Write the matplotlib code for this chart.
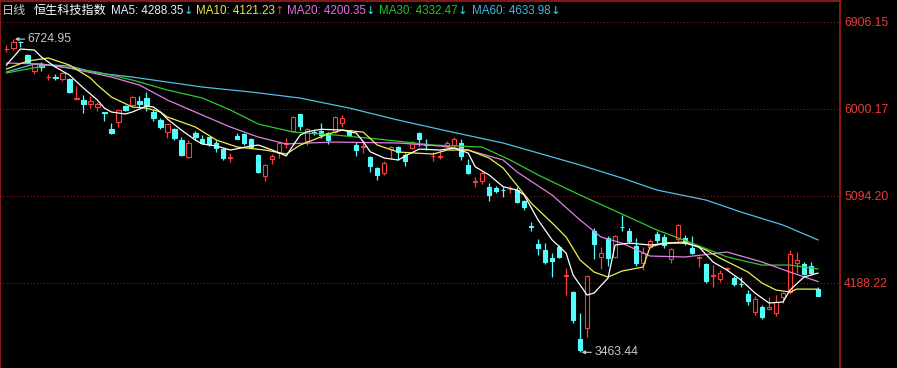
import matplotlib
matplotlib.use("Agg")
import matplotlib.pyplot as plt
import numpy as np

# daily candles
opens = [6625, 6630, 6700, 6559, 6393, 6463, 6330, 6330, 6310, 6310,
         6102, 6091, 6046, 6021, 5965, 5789, 5865, 6028, 6039, 6080,
         6115, 5963, 5883, 5761, 5786, 5675, 5494, 5750, 5688, 5702,
         5646, 5578, 5490, 5719, 5737, 5682, 5518, 5300, 5480, 5536,
         5630, 5771, 5940, 5667, 5760, 5770, 5745, 5761, 5855, 5775,
         5620, 5600, 5494, 5380, 5334, 5577, 5605, 5518, 5588, 5744,
         5630, 5505, 5495, 5610, 5625, 5640, 5415, 5240, 5250, 5185,
         5175, 5155, 5160, 5155, 5040, 4775, 4590, 4530, 4443, 4563,
         4255, 4095, 3600, 3715, 4730, 4460, 4650, 4460, 4770, 4730,
         4570, 4397, 4565, 4700, 4668, 4432, 4640, 4652, 4547, 4450,
         4384, 4262, 4225, 4335, 4240, 4178, 4072, 3880, 3940, 3912,
         3877, 4043, 4087, 4390, 4384, 4366, 4120]
highs = [6660, 6724.95, 6705, 6565, 6470, 6484, 6365, 6365, 6385, 6320,
         6240, 6143, 6130, 6070, 5968, 5848, 5987, 6040, 6130, 6132,
         6170, 5987, 5907, 5845, 5800, 5710, 5675, 5771, 5727, 5706,
         5675, 5590, 5542, 5744, 5750, 5700, 5528, 5425, 5530, 5657,
         5692, 5925, 5945, 5796, 5790, 5848, 5760, 5925, 5935, 5780,
         5657, 5660, 5508, 5397, 5459, 5612, 5615, 5535, 5665, 5760,
         5680, 5550, 5570, 5660, 5705, 5680, 5475, 5290, 5350, 5230,
         5200, 5190, 5195, 5180, 5050, 4825, 4640, 4600, 4495, 4580,
         4340, 4100, 3870, 4270, 4755, 4565, 4670, 4690, 4895, 4755,
         4650, 4565, 4640, 4730, 4700, 4547, 4800, 4685, 4675, 4467,
         4390, 4373, 4320, 4355, 4255, 4245, 4110, 4050, 3957, 4043,
         4060, 4095, 4530, 4510, 4400, 4408, 4140]
lows = [6590, 6610, 6640, 6485, 6362, 6393, 6300, 6300, 6290, 6160,
        6095, 5952, 6005, 5980, 5875, 5733, 5813, 5980, 6030, 6022,
        5976, 5877, 5787, 5698, 5678, 5508, 5484, 5675, 5633, 5612,
        5553, 5470, 5449, 5680, 5623, 5592, 5328, 5251, 5420, 5484,
        5588, 5766, 5780, 5622, 5725, 5692, 5633, 5744, 5813, 5720,
        5508, 5540, 5345, 5258, 5310, 5484, 5465, 5405, 5585, 5612,
        5570, 5460, 5480, 5600, 5610, 5470, 5320, 5180, 5220, 5040,
        5120, 5085, 5120, 5020, 4950, 4730, 4478, 4385, 4250, 4445,
        4060, 3770, 3463.44, 3627, 4432, 4330, 4365, 4445, 4730, 4600,
        4362, 4320, 4550, 4600, 4548, 4397, 4620, 4582, 4488, 4355,
        4190, 4140, 4200, 4305, 4150, 4140, 3955, 3855, 3810, 3905,
        3845, 3980, 4072, 4290, 4270, 4280, 4045]
closes = [6618, 6700, 6695, 6490, 6463, 6435, 6335, 6325, 6370, 6170,
          6110, 6046, 6080, 6046, 5960, 5744, 5987, 5987, 6125, 6046,
          6039, 5907, 5813, 5838, 5692, 5518, 5640, 5709, 5646, 5633,
          5588, 5484, 5500, 5685, 5646, 5605, 5345, 5414, 5510, 5646,
          5640, 5917, 5820, 5786, 5752, 5726, 5675, 5917, 5900, 5730,
          5570, 5610, 5403, 5310, 5438, 5605, 5552, 5460, 5657, 5680,
          5625, 5510, 5510, 5640, 5690, 5510, 5335, 5250, 5330, 5100,
          5140, 5150, 5165, 5030, 4980, 4770, 4547, 4407, 4418, 4460,
          4270, 3800, 3490, 4260, 4590, 4495, 4443, 4670, 4765, 4625,
          4397, 4495, 4625, 4630, 4582, 4536, 4790, 4600, 4495, 4455,
          4210, 4270, 4293, 4340, 4172, 4175, 4002, 4020, 3835, 3940,
          3990, 4078, 4488, 4425, 4280, 4287, 4050]
up = [1, 1, 0, 0, 1, 0, 1, 0, 1, 0,
      1, 0, 1, 1, 0, 0, 1, 0, 1, 0,
      0, 0, 0, 1, 0, 0, 1, 0, 0, 0,
      0, 0, 1, 0, 0, 0, 0, 1, 1, 1,
      1, 1, 0, 1, 0, 0, 0, 1, 1, 0,
      0, 1, 0, 0, 1, 1, 0, 0, 1, 0,
      0, 1, 1, 1, 1, 0, 0, 1, 1, 0,
      0, 0, 1, 0, 0, 0, 0, 0, 0, 0,
      1, 0, 0, 1, 0, 1, 0, 1, 0, 0,
      0, 1, 1, 0, 0, 1, 1, 0, 0, 1,
      0, 1, 1, 1, 0, 0, 0, 1, 0, 1,
      1, 1, 1, 1, 0, 0, 0]

# moving averages (day index, value)
ma5_idx = [0, 1, 2, 4, 5, 7, 9, 11, 13, 14, 15, 17, 18, 20, 21, 22, 23, 25, 27, 28,
           30, 32, 35, 36, 38, 40, 41, 42, 43, 45, 48, 50, 51, 52, 54, 56, 57, 59, 62, 64,
           66, 67, 69, 71, 73, 74, 76, 78, 80, 81, 83, 84, 86, 87, 89, 92, 95, 97, 99, 101,
           103, 105, 107, 109, 111, 112, 114, 116]
ma5_val = [6455, 6539, 6622, 6611, 6539, 6434, 6351, 6216, 6091, 6007, 5966, 5945, 5966, 6028, 6018, 5966, 5893, 5778, 5674, 5633,
           5612, 5570, 5612, 5622, 5570, 5508, 5622, 5726, 5761, 5786, 5778, 5747, 5657, 5552, 5487, 5466, 5508, 5580, 5570, 5591,
           5539, 5396, 5310, 5188, 5153, 5101, 4841, 4633, 4497, 4268, 4060, 4081, 4237, 4581, 4601, 4581, 4601, 4601, 4560, 4404,
           4320, 4216, 4081, 3977, 3987, 4112, 4247, 4288.35]
ma10_idx = [0, 3, 6, 9, 12, 13, 15, 18, 20, 22, 23, 27, 30, 33, 37, 40, 42, 46, 48, 51,
            53, 56, 61, 63, 66, 69, 71, 75, 78, 80, 82, 84, 86, 88, 91, 92, 94, 97, 100, 102,
            104, 106, 108, 110, 112, 113, 116]
ma10_val = [6413, 6497, 6528, 6455, 6320, 6247, 6122, 6018, 6007, 5966, 5914, 5810, 5674, 5601, 5570, 5528, 5622, 5737, 5778, 5757,
            5622, 5549, 5528, 5570, 5570, 5487, 5383, 5018, 4810, 4664, 4424, 4299, 4247, 4310, 4351, 4560, 4601, 4612, 4529, 4445,
            4372, 4299, 4185, 4112, 4091, 4122, 4121.23]
ma20_idx = [0, 5, 9, 15, 19, 23, 28, 32, 36, 40, 43, 47, 56, 62, 66, 71, 73, 78, 82, 85,
            88, 92, 97, 103, 108, 112, 116]
ma20_val = [6476, 6466, 6424, 6330, 6247, 6091, 5934, 5810, 5705, 5633, 5643, 5653, 5643, 5612, 5570, 5466, 5341, 5101, 4841, 4664,
            4601, 4466, 4456, 4508, 4404, 4299, 4200.35]
ma30_idx = [0, 6, 13, 18, 23, 28, 32, 36, 41, 47, 53, 61, 68, 72, 76, 82, 88, 93, 98, 103,
            108, 112, 116]
ma30_val = [6372, 6455, 6382, 6299, 6195, 6112, 5987, 5841, 5757, 5726, 5685, 5622, 5601, 5466, 5310, 5101, 4903, 4737, 4601, 4456,
            4372, 4372, 4332.47]
ma60_idx = [0, 4, 9, 13, 18, 23, 28, 35, 42, 49, 56, 63, 71, 76, 82, 88, 93, 100, 105, 111, 116]
ma60_val = [6382, 6466, 6445, 6372, 6330, 6278, 6226, 6174, 6111, 6007, 5882, 5768, 5643, 5539, 5414, 5278, 5153, 5049, 4924, 4789,
            4633.98]

yticks = [6906.15, 6000.17, 5094.20, 4188.22]

RED = '#ff3c3c'
CYAN = '#54fcfc'
FRAME = '#a01c1c'
GRID = '#8c1a1a'

fig = plt.figure(figsize=(8.97, 3.68), dpi=100, facecolor='black')
ax = fig.add_axes([0.0005, 0, 839.5 / 897, 367 / 368], facecolor='black')

n = len(opens)
x = np.arange(n)
o = np.array(opens, float)
h = np.array(highs, float)
l = np.array(lows, float)
c = np.array(closes, float)
isup = np.array(up, bool)

body_lo = np.minimum(o, c)
body_hi = np.maximum(o, c)
w = 0.62

# down candles: filled cyan
ax.vlines(x[~isup], l[~isup], h[~isup], color=CYAN, lw=0.9, zorder=2)
ax.bar(x[~isup], body_hi[~isup] - body_lo[~isup], w, bottom=body_lo[~isup],
       facecolor=CYAN, edgecolor=CYAN, lw=0.8, zorder=2)
# up candles: hollow red
ax.vlines(x[isup], body_hi[isup], h[isup], color=RED, lw=0.9, zorder=2)
ax.vlines(x[isup], l[isup], body_lo[isup], color=RED, lw=0.9, zorder=2)
ax.bar(x[isup], body_hi[isup] - body_lo[isup], w, bottom=body_lo[isup],
       facecolor='black', edgecolor=RED, lw=0.8, zorder=2)

ax.plot(ma60_idx, ma60_val, color='#50c0e8', lw=0.9, zorder=3)
ax.plot(ma30_idx, ma30_val, color='#30c830', lw=0.9, zorder=3)
ax.plot(ma20_idx, ma20_val, color='#e080e0', lw=0.9, zorder=3)
ax.plot(ma10_idx, ma10_val, color='#f0f050', lw=0.9, zorder=3)
ax.plot(ma5_idx, ma5_val, color='white', lw=0.9, zorder=4)

for t in yticks:
    ax.axhline(t, color=GRID, lw=0.8, ls=(0, (1, 2)), zorder=1)

ax.set_xlim(-6 / 7, 834 / 7)
ax.set_ylim(3300, 7122)
ax.yaxis.tick_right()
ax.set_yticks(yticks)
ax.set_yticklabels(['%.2f' % t for t in yticks], color='#e83c3c',
                   fontsize=8.8, family='Liberation Sans')
ax.tick_params(axis='y', length=0, pad=3)
ax.set_xticks([])
for side in ['left', 'top', 'right']:
    ax.spines[side].set_color(FRAME)
    ax.spines[side].set_linewidth(1.2)
ax.spines['bottom'].set_visible(False)

# high / low markers
imax = int(np.argmax(h))
imin = int(np.argmin(l))
arrow = dict(arrowstyle='-|>', color='#c8c8c8', lw=0.8, mutation_scale=5,
             shrinkA=0, shrinkB=0)
ax.annotate('%.2f' % h[imax], xy=(imax + 0.2, h[imax]), xytext=(imax + 2.0, h[imax]),
            color='#c8c8c8', fontsize=8.8, family='Liberation Sans', va='center',
            arrowprops=arrow, zorder=5)
ax.annotate('%.2f' % l[imin], xy=(imin + 0.2, l[imin]), xytext=(imin + 2.0, l[imin]),
            color='#c8c8c8', fontsize=8.8, family='Liberation Sans', va='center',
            arrowprops=arrow, zorder=5)

# header
fam = ['Liberation Sans', 'Noto Sans CJK SC', 'DejaVu Sans']
header = [
    ('日线', '#c8c8c8', 2, None, None),
    ('恒生科技指数', 'white', 34, None, None),
    ('MA5: 4288.35', '#e8eef8', 111, '↓', '#40e0e8'),
    ('MA10: 4121.23', '#e8e83c', 196, '↑', '#ff3030'),
    ('MA20: 4200.35', '#e070e0', 287, '↓', '#40e0e8'),
    ('MA30: 4332.47', '#20c820', 379, '↓', '#40e0e8'),
    ('MA60: 4633.98', '#40b8e0', 472, '↓', '#40e0e8'),
]
ytxt = 1 - 11 / 368
fig.canvas.draw()
r = fig.canvas.get_renderer()
for txt, col, px, arr, acol in header:
    size = 8.7 if arr is None else 8.4
    t = fig.text(px / 897, ytxt, txt, color=col, fontsize=size, family=fam, va='center')
    if arr:
        bb = t.get_window_extent(renderer=r)
        fig.text(bb.x1 / 897, ytxt, arr, color=acol, fontsize=8.2,
                 family='DejaVu Sans', va='center')

fig.savefig('out.png', dpi=100, facecolor='black')
